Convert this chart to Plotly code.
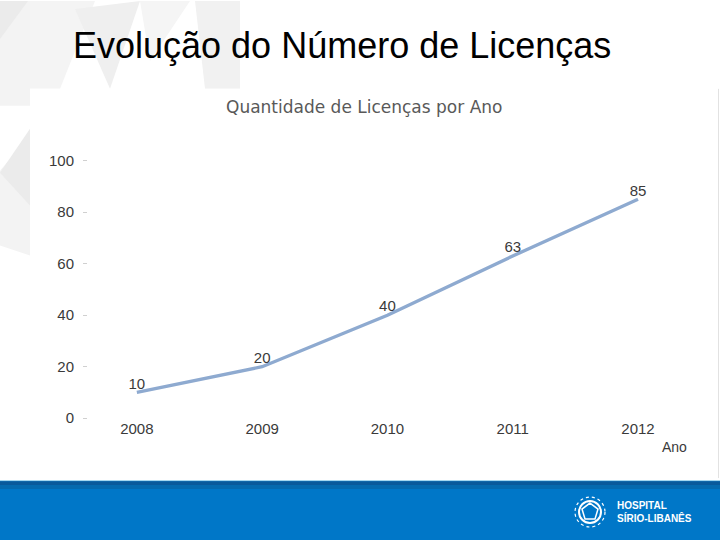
import plotly.graph_objects as go

years = ["2008", "2009", "2010", "2011", "2012"]
licencas = [10, 20, 40, 63, 85]
y_ticks = [0, 20, 40, 60, 80, 100]

W, H = 720, 540
# the page is photographed with an 8px band on top and a slight vertical squeeze;
# map target picture rows to figure rows
OFF, SQ = 8.0, 0.9704

def Y(t):
    return (t - OFF) / SQ

def P(x, y):
    return x / W, 1 - Y(y) / H

def path(pts):
    s = ""
    for i, (x, y) in enumerate(pts):
        px, py = P(x, y)
        s += ("M" if i == 0 else "L") + f"{px:.5f},{py:.5f} "
    return s + "Z"

def rect(x0, y0, x1, y1, color, layer="below"):
    a, b = P(x0, y0)
    c, d = P(x1, y1)
    return dict(type="rect", xref="paper", yref="paper", x0=a, y0=d, x1=c, y1=b,
                fillcolor=color, line=dict(width=0), layer=layer)

def poly(pts, color):
    return dict(type="path", xref="paper", yref="paper", path=path(pts),
                fillcolor=color, line=dict(width=0), layer="below")

shapes = [
    poly([(0, 0), (30, 0), (30, 105), (0, 105)], "#f3f3f3"),
    poly([(0, 0), (28, 0), (0, 38)], "#ebebeb"),
    poly([(30, 0), (95, 0), (60, 88), (30, 88)], "#f4f4f4"),
    poly([(75, 8), (140, 0), (110, 88)], "#efefef"),
    poly([(140, 0), (190, 0), (150, 60)], "#f5f5f5"),
    poly([(195, 0), (240, 0), (240, 88), (205, 88)], "#f1f1f1"),
    poly([(0, 170), (30, 135), (30, 255), (0, 245)], "#f3f3f3"),
    poly([(0, 172), (30, 128), (30, 205)], "#ebebeb"),
    rect(30, 88, 718, 478, "white"),
    dict(type="line", xref="paper", yref="paper", x0=718.5 / W, x1=718.5 / W,
         y0=P(0, 478)[1], y1=P(0, 88)[1], line=dict(color="#e2e2e2", width=1), layer="below"),
    rect(0, 480, 720, 560, "#0077c8"),
    rect(0, 480, 720, 481.2, "#a6d8ef"),
    rect(0, 481.2, 720, 485, "#0a5a9b"),
    rect(0, 485, 720, 489, "#066aae"),
    dict(type="circle", xref="paper", yref="paper", x0=P(575, 0)[0], x1=P(605, 0)[0],
         y0=P(0, 527)[1], y1=P(0, 497)[1], line=dict(color="white", width=1.2, dash="dot"),
         layer="above"),
    dict(type="circle", xref="paper", yref="paper", x0=P(579, 0)[0], x1=P(601, 0)[0],
         y0=P(0, 523)[1], y1=P(0, 501)[1], line=dict(color="white", width=2),
         layer="above"),
    dict(type="path", xref="paper", yref="paper",
         path=path([(590, 503), (598, 509), (595, 519), (585, 519), (582, 509)]),
         line=dict(color="white", width=1.5), fillcolor="rgba(0,0,0,0)", layer="above"),
]

fig = go.Figure()
fig.add_trace(go.Scatter(
    x=years, y=licencas, mode="lines+text",
    line=dict(color="#8eaad0", width=3.4),
    text=[str(v) for v in licencas], textposition="top center",
    textfont=dict(family="Liberation Sans, Arial", size=15, color="#3a3a3a"),
    cliponaxis=False, hoverinfo="skip", showlegend=False,
))

annotations = [
    dict(text="Evolução do Número de Licenças", xref="paper", yref="paper",
         x=P(71, 0)[0], y=P(0, 45)[1], xanchor="left", yanchor="middle", showarrow=False,
         font=dict(family="Liberation Sans, Arial", size=36, color="#000000")),
    dict(text="Quantidade de Licenças por Ano", xref="paper", yref="paper",
         x=P(364, 0)[0], y=P(0, 106)[1], xanchor="center", yanchor="middle", showarrow=False,
         font=dict(family="DejaVu Sans, Verdana", size=17, color="#595959")),
    dict(text="Ano", xref="paper", yref="paper",
         x=P(674, 0)[0], y=P(0, 447)[1], xanchor="center", yanchor="middle", showarrow=False,
         font=dict(family="Liberation Sans, Arial", size=14, color="#3a3a3a")),
    dict(text="<b>HOSPITAL<br>SÍRIO-LIBANÊS</b>", xref="paper", yref="paper",
         x=P(615, 0)[0], y=P(0, 512)[1], xanchor="left", yanchor="middle", showarrow=False,
         align="left",
         font=dict(family="Liberation Sans, Arial", size=10, color="white")),
]

fig.update_layout(
    width=W, height=H,
    margin=dict(l=0, r=0, t=0, b=0),
    paper_bgcolor="white", plot_bgcolor="rgba(0,0,0,0)",
    shapes=shapes, annotations=annotations,
    xaxis=dict(domain=[88 / W, 690 / W], type="category", categoryorder="array",
               categoryarray=years, range=[-0.39, 4.415], showgrid=False, zeroline=False,
               showline=False, ticks="", tickfont=dict(family="Liberation Sans, Arial",
               size=15, color="#3a3a3a"), fixedrange=True),
    yaxis=dict(domain=[P(0, 418)[1], P(0, 160)[1]], range=[0, 100], tickvals=y_ticks,
               showgrid=False, zeroline=False, showline=False, ticks="outside", ticklen=4,
               tickcolor="#d0d0d0", tickwidth=1, ticklabelstandoff=6,
               tickfont=dict(family="Liberation Sans, Arial", size=15, color="#3a3a3a"),
               fixedrange=True),
)

post = (
    "var s=document.createElement('style');"
    "s.textContent='html,body{margin:0!important;padding:0!important;overflow:hidden;"
    "width:720px;height:540px;background:linear-gradient(to bottom,#f3f3f3 0,#ffffff 3%,"
    "#ffffff 50%,#0077c8 50%,#0077c8 100%);}';"
    "document.head.appendChild(s);"
    "var g=document.getElementById('{plot_id}');"
    "g.style.position='absolute';g.style.left='0px';g.style.top='0px';"
)

fig.write_html("out.html", post_script=post, config={"displayModeBar": False})
